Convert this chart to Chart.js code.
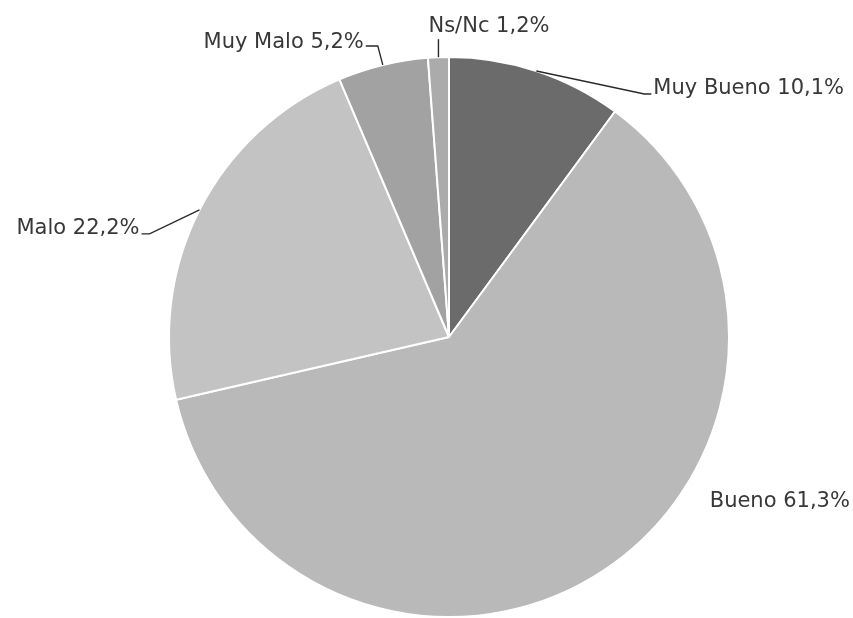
<!DOCTYPE html>
<html>
<head>
<meta charset="utf-8">
<script src="https://cdn.jsdelivr.net/npm/chart.js@4/dist/chart.umd.min.js"></script>
<style>
  html, body { margin: 0; padding: 0; background: #fff; }
  #wrap { width: 853px; height: 618px; position: relative; }
</style>
</head>
<body>
<div id="wrap"><canvas id="valoracion" width="853" height="618"></canvas></div>
<script>
const categorias = ['Muy Bueno', 'Bueno', 'Malo', 'Muy Malo', 'Ns/Nc'];
const porcentajes = [10.1, 61.3, 22.2, 5.2, 1.2];
const colores = ['#6b6b6b', '#b9b9b9', '#c3c3c3', '#a2a2a2', '#ababab'];

// where each label sits relative to the point on the rim at the slice's middle
// tx/ty: point where the leader meets the text, align: side of the text
const etiquetas = [
  { tx: 115, ty: 23, align: 'left', elbow: -7, dyText: -5 },
  { tx: 105, ty: -69, align: 'left', elbow: null, dyText: 0 },
  { tx: -58, ty: 24, align: 'right', elbow: 8, dyText: -5 },
  { tx: -17, ty: -19, align: 'right', elbow: 12, dyText: -3 },
  { tx: 0, ty: -18, align: 'up', elbow: null, dyText: 0 }
];

const fmt = v => v.toFixed(1).replace('.', ',') + '%';

const rotulos = {
  id: 'rotulos',
  afterDatasetsDraw(chart) {
    const ctx = chart.ctx;
    const meta = chart.getDatasetMeta(0);
    ctx.save();
    ctx.font = '21px "DejaVu Sans"';
    ctx.fillStyle = '#383838';
    ctx.strokeStyle = '#2a2a2a';
    ctx.lineWidth = 1.4;
    ctx.textBaseline = 'middle';
    meta.data.forEach((arc, i) => {
      const p = arc.getProps(['x', 'y', 'startAngle', 'endAngle', 'outerRadius'], true);
      const mid = (p.startAngle + p.endAngle) / 2;
      const ax = p.x + Math.cos(mid) * p.outerRadius;
      const ay = p.y + Math.sin(mid) * p.outerRadius;
      const e = etiquetas[i];
      const px = ax + e.tx, py = ay + e.ty;
      const texto = categorias[i] + ' ' + fmt(porcentajes[i]);
      if (e.align === 'up') {
        ctx.beginPath();
        ctx.moveTo(ax, ay);
        ctx.lineTo(px, py);
        ctx.stroke();
        ctx.textAlign = 'left';
        ctx.fillText(texto, px - 10, py - 13);
        return;
      }
      if (e.elbow !== null) {
        ctx.beginPath();
        ctx.moveTo(ax, ay);
        ctx.lineTo(px + e.elbow, py);
        ctx.lineTo(px, py);
        ctx.stroke();
      }
      ctx.textAlign = e.align;
      ctx.fillText(texto, px + (e.align === 'left' ? 2 : -2), py + e.dyText);
    });
    ctx.restore();
  }
};

new Chart(document.getElementById('valoracion'), {
  type: 'pie',
  data: {
    labels: categorias,
    datasets: [{
      data: porcentajes,
      backgroundColor: colores,
      borderColor: '#ffffff',
      borderWidth: 2,
      hoverOffset: 0,
      offset: 0
    }]
  },
  options: {
    responsive: false,
    animation: false,
    layout: { padding: { left: 168, right: 123, top: 56, bottom: 0 } },
    plugins: {
      legend: { display: false },
      tooltip: { enabled: false }
    }
  },
  plugins: [rotulos]
});
</script>
</body>
</html>
